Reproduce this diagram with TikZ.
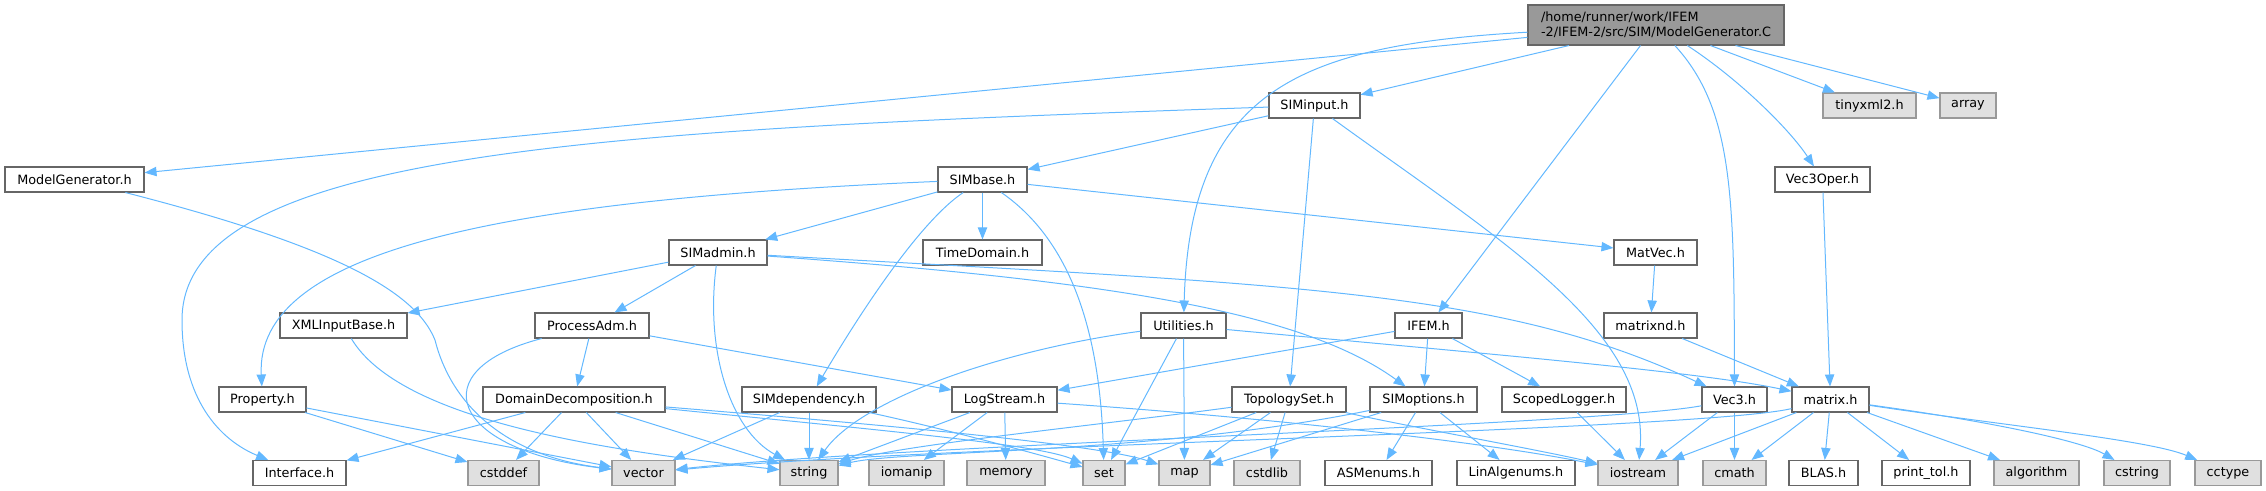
\documentclass[tikz,border=0pt]{standalone}
\usepackage{fontspec}
\setmainfont{DejaVu Sans}
\usetikzlibrary{arrows.meta}
\definecolor{edgeblue}{HTML}{63B8FF}
\definecolor{boxline}{HTML}{666666}
\definecolor{sysfill}{HTML}{E0E0E0}
\definecolor{sysline}{HTML}{999999}
\definecolor{rootfill}{HTML}{999999}
\tikzset{
  hdr/.style={draw=boxline, fill=white, line width=0.8pt, minimum height=18.75pt, inner sep=0pt, font=\fontsize{9.6}{11.4}\selectfont},
  sys/.style={hdr, draw=sysline, fill=sysfill},
  rootbox/.style={hdr, fill=rootfill, minimum height=30pt, align=left},
  wd/.style={minimum width=#1*0.75pt},
  dep/.style={draw=edgeblue, line width=0.75pt, -{Triangle[length=9pt,width=7pt]}},
}
\begin{document}
\begin{tikzpicture}[x=0.75pt,y=-0.75pt]
\useasboundingbox (0,0) rectangle (2266,491);
% nodes
\node[rootbox,wd=256] (nroot) at (1656,25) {/home/runner/work/IFEM\\-2/IFEM-2/src/SIM/ModelGenerator.C};
\node[hdr,wd=139] (nmg) at (74.5,179.5) {ModelGenerator.h};
\node[hdr,wd=91] (nsiminput) at (1314.5,105.5) {SIMinput.h};
\node[sys,wd=93] (ntiny) at (1869.5,105.5) {tinyxml2.h};
\node[sys,wd=56] (narray) at (1968,105.5) {array};
\node[hdr,wd=89] (nsimbase) at (982.5,179.5) {SIMbase.h};
\node[hdr,wd=95] (nvecoper) at (1822.5,179.5) {Vec3Oper.h};
\node[hdr,wd=98] (nsimadmin) at (718,252.5) {SIMadmin.h};
\node[hdr,wd=119] (ntimedom) at (982.5,252.5) {TimeDomain.h};
\node[hdr,wd=83] (nmatvec) at (1655.5,252.5) {MatVec.h};
\node[hdr,wd=127] (nxml) at (343.5,325.5) {XMLInputBase.h};
\node[hdr,wd=114] (nprocadm) at (592,325.5) {ProcessAdm.h};
\node[hdr,wd=85] (nutil) at (1183.5,325.5) {Utilities.h};
\node[hdr,wd=67] (nifem) at (1428.5,325.5) {IFEM.h};
\node[hdr,wd=93] (nmatrixnd) at (1650.5,325.5) {matrixnd.h};
\node[hdr,wd=87] (nproperty) at (262.5,399.5) {Property.h};
\node[hdr,wd=182] (ndomdec) at (574,399.5) {DomainDecomposition.h};
\node[hdr,wd=134] (nsimdep) at (809,399.5) {SIMdependency.h};
\node[hdr,wd=105] (nlog) at (1004.5,399.5) {LogStream.h};
\node[hdr,wd=114] (ntopo) at (1289,399.5) {TopologySet.h};
\node[hdr,wd=107] (nsimopt) at (1423.5,399.5) {SIMoptions.h};
\node[hdr,wd=124] (nscoped) at (1564,399.5) {ScopedLogger.h};
\node[hdr,wd=65] (nvec3) at (1734.5,399.5) {Vec3.h};
\node[hdr,wd=77] (nmatrix) at (1830.5,399.5) {matrix.h};
\node[hdr,wd=93] (ninterface) at (299.5,473) {Interface.h};
\node[sys,wd=71] (ncstddef) at (503.5,473) {cstddef};
\node[sys,wd=63] (nvector) at (643.5,473) {vector};
\node[sys,wd=58] (nstring) at (809,473) {string};
\node[sys,wd=75] (niomanip) at (906.5,473) {iomanip};
\node[sys,wd=78] (nmemory) at (1006,473) {memory};
\node[sys,wd=42] (nset) at (1104,473) {set};
\node[sys,wd=51] (nmap) at (1184.5,473) {map};
\node[sys,wd=66] (ncstdlib) at (1267,473) {cstdlib};
\node[hdr,wd=107] (nasm) at (1378.5,473) {ASMenums.h};
\node[hdr,wd=118] (nlinalg) at (1516,473) {LinAlgenums.h};
\node[sys,wd=80] (niostream) at (1638,473) {iostream};
\node[sys,wd=63] (ncmath) at (1734.5,473) {cmath};
\node[hdr,wd=69] (nblas) at (1823.5,473) {BLAS.h};
\node[hdr,wd=88] (nprinttol) at (1926,473) {print\_tol.h};
\node[sys,wd=85] (nalgo) at (2036.5,473) {algorithm};
\node[sys,wd=66] (ncstring) at (2137,473) {cstring};
\node[sys,wd=66] (ncctype) at (2228,473) {cctype};
% edges from root
\draw[dep] (nroot) -- (nmg);
\draw[dep] (nroot) -- (nsiminput);
\draw[dep] (nroot) .. controls (1300,45) and (1190,90) .. (nutil);
\draw[dep] (nroot) -- (nifem);
\draw[dep] (nroot) .. controls (1734,110) and (1734,200) .. (nvec3);
\draw[dep] (nroot) .. controls (1740,80) and (1790,130) .. (nvecoper);
\draw[dep] (nroot) -- (ntiny);
\draw[dep] (nroot) -- (narray);
% ModelGenerator.h
\draw[dep] (nmg) .. controls (330,245) and (415,290) .. (435,340) .. controls (450,400) and (500,455) .. (nvector);
% SIMinput.h
\draw[dep] (nsiminput) .. controls (600,130) and (182,150) .. (182,320) .. controls (182,400) and (220,440) .. (ninterface);
\draw[dep] (nsiminput) -- (nsimbase);
\draw[dep] (nsiminput) -- (ntopo);
\draw[dep] (nsiminput) .. controls (1500,240) and (1650,330) .. (niostream);
% SIMbase.h
\draw[dep] (nsimbase) .. controls (500,200) and (255,250) .. (nproperty);
\draw[dep] (nsimbase) -- (nsimadmin);
\draw[dep] (nsimbase) .. controls (915,225) and (850,330) .. (nsimdep);
\draw[dep] (nsimbase) -- (ntimedom);
\draw[dep] (nsimbase) .. controls (1070,240) and (1100,330) .. (nset);
\draw[dep] (nsimbase) -- (nmatvec);
% SIMadmin.h
\draw[dep] (nsimadmin) -- (nxml);
\draw[dep] (nsimadmin) -- (nprocadm);
\draw[dep] (nsimadmin) .. controls (705,350) and (730,430) .. (nstring);
\draw[dep] (nsimadmin) .. controls (1100,280) and (1300,310) .. (nsimopt);
\draw[dep] (nsimadmin) .. controls (1300,285) and (1500,290) .. (nvec3);
% XMLInputBase.h, ProcessAdm.h, Property.h
\draw[dep] (nxml) .. controls (400,420) and (600,450) .. (nstring);
\draw[dep] (nprocadm) -- (ndomdec);
\draw[dep] (nprocadm) .. controls (420,370) and (450,450) .. (nvector);
\draw[dep] (nprocadm) -- (nlog);
\draw[dep] (nproperty) -- (ncstddef);
\draw[dep] (nproperty) -- (nvector);
% DomainDecomposition.h
\draw[dep] (ndomdec) -- (ninterface);
\draw[dep] (ndomdec) -- (ncstddef);
\draw[dep] (ndomdec) -- (nvector);
\draw[dep] (ndomdec) -- (nstring);
\draw[dep] (ndomdec) .. controls (900,432) and (1040,445) .. (nset);
\draw[dep] (ndomdec) .. controls (900,426) and (1100,445) .. (nmap);
% SIMdependency.h
\draw[dep] (nsimdep) -- (nvector);
\draw[dep] (nsimdep) -- (nstring);
\draw[dep] (nsimdep) .. controls (950,430) and (1040,455) .. (nset);
% LogStream.h
\draw[dep] (nlog) -- (nstring);
\draw[dep] (nlog) -- (niomanip);
\draw[dep] (nlog) -- (nmemory);
\draw[dep] (nlog) .. controls (1300,420) and (1500,445) .. (niostream);
% Utilities.h
\draw[dep] (nutil) .. controls (1000,350) and (860,400) .. (nstring);
\draw[dep] (nutil) -- (nset);
\draw[dep] (nutil) -- (nmap);
\draw[dep] (nutil) .. controls (1500,355) and (1700,372) .. (nmatrix);
% IFEM.h
\draw[dep] (nifem) -- (nlog);
\draw[dep] (nifem) -- (nsimopt);
\draw[dep] (nifem) -- (nscoped);
% TopologySet.h
\draw[dep] (ntopo) .. controls (1100,425) and (900,445) .. (nstring);
\draw[dep] (ntopo) -- (nset);
\draw[dep] (ntopo) -- (nmap);
\draw[dep] (ntopo) -- (ncstdlib);
\draw[dep] (ntopo) .. controls (1400,425) and (1540,450) .. (niostream);
% SIMoptions.h
\draw[dep] (nsimopt) .. controls (1150,455) and (900,450) .. (nstring);
\draw[dep] (nsimopt) -- (nmap);
\draw[dep] (nsimopt) -- (nasm);
\draw[dep] (nsimopt) -- (nlinalg);
% ScopedLogger.h, Vec3.h
\draw[dep] (nscoped) -- (niostream);
\draw[dep] (nvec3) .. controls (1600,425) and (900,445) .. (nvector);
\draw[dep] (nvec3) -- (niostream);
\draw[dep] (nvec3) -- (ncmath);
% matrix.h
\draw[dep] (nmatrix) .. controls (1700,430) and (950,445) .. (nvector);
\draw[dep] (nmatrix) -- (niostream);
\draw[dep] (nmatrix) -- (ncmath);
\draw[dep] (nmatrix) -- (nblas);
\draw[dep] (nmatrix) -- (nprinttol);
\draw[dep] (nmatrix) -- (nalgo);
\draw[dep] (nmatrix) .. controls (1980,420) and (2080,440) .. (ncstring);
\draw[dep] (nmatrix) .. controls (2000,425) and (2150,440) .. (ncctype);
% MatVec chain
\draw[dep] (nmatvec) -- (nmatrixnd);
\draw[dep] (nmatrixnd) -- (nmatrix);
\draw[dep] (nvecoper) -- (nmatrix);
\end{tikzpicture}
\end{document}
